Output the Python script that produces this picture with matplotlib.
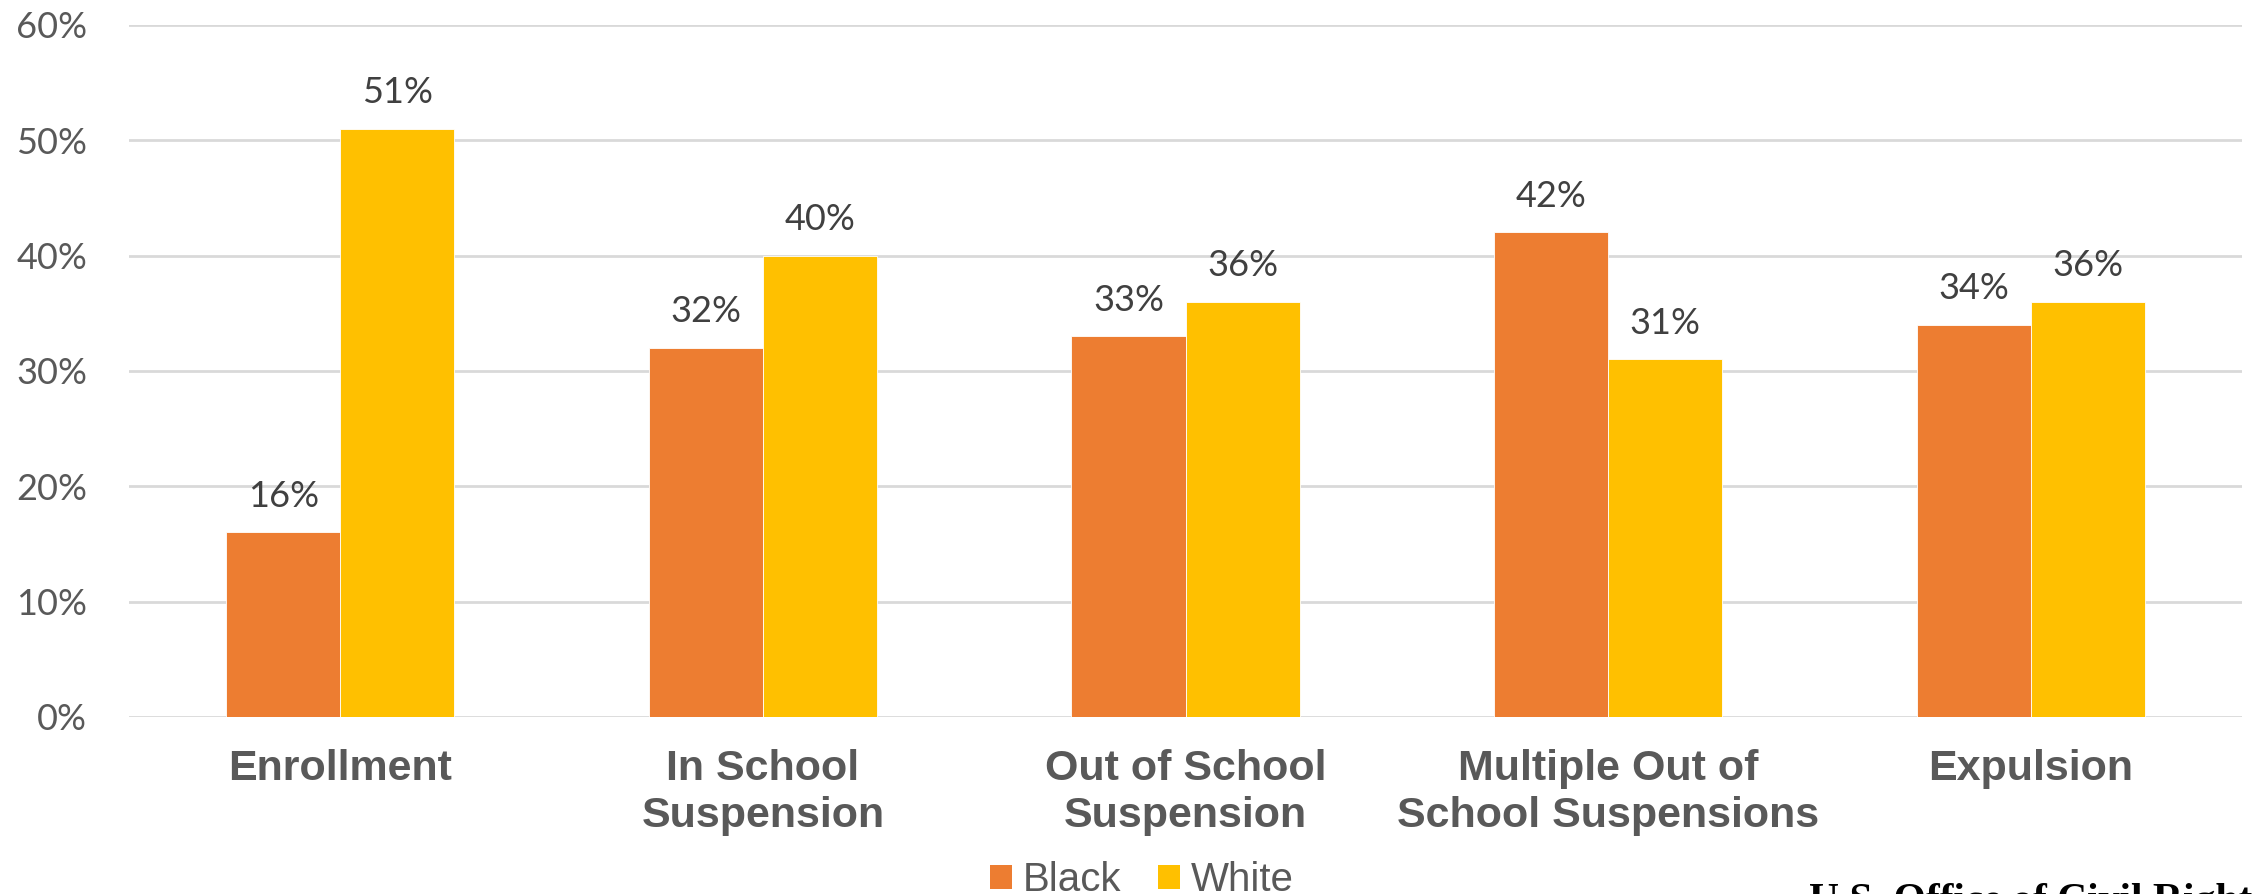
import matplotlib
matplotlib.use("Agg")
import matplotlib.pyplot as plt
from matplotlib.patches import Patch
from matplotlib.ticker import FuncFormatter
import numpy as np

# --- data ---
categories = ["Enrollment", "In School\nSuspension", "Out of School\nSuspension",
              "Multiple Out of\nSchool Suspensions", "Expulsion"]
black_pct = [16, 32, 33, 42, 34]
white_pct = [51, 40, 36, 31, 36]
series_names = ["Black", "White"]
y_ticks = [0, 10, 20, 30, 40, 50, 60]
source_note = "U.S. Office of Civil Rights"

ORANGE = "#ED7D31"
GOLD = "#FFC000"
GRID = "#D9D9D9"
TICK_GREY = "#595959"
LABEL_GREY = "#404040"

fig = plt.figure(figsize=(22.52, 8.94), dpi=100)
ax = fig.add_axes([0.0573, 0.198, 0.9383, 0.7742])

x = np.arange(len(categories))
w = 0.27
bars_b = ax.bar(x - w / 2, black_pct, w, color=ORANGE, edgecolor="white", linewidth=0.6, zorder=3)
bars_w = ax.bar(x + w / 2, white_pct, w, color=GOLD, edgecolor="white", linewidth=0.6, zorder=3)

# value labels above each bar
for bars, vals in ((bars_b, black_pct), (bars_w, white_pct)):
    for b, v in zip(bars, vals):
        ax.annotate(f"{v}%", (b.get_x() + b.get_width() / 2, v),
                    xytext=(0, 14), textcoords="offset points",
                    ha="center", va="bottom", fontsize=26, family="Lato",
                    color=LABEL_GREY)

ax.set_xlim(-0.5, len(categories) - 0.5)
ax.set_ylim(0, 60)
ax.set_yticks(y_ticks)
ax.yaxis.set_major_formatter(FuncFormatter(lambda v, p: f"{v:.0f}%"))
ax.grid(axis="y", color=GRID, linewidth=2, zorder=0)
for s in ax.spines.values():
    s.set_visible(False)
ax.tick_params(axis="y", length=0, pad=30, labelsize=26, labelcolor=TICK_GREY)
ax.tick_params(axis="x", length=0, pad=23)
for t in ax.yaxis.get_ticklabels():
    t.set_family("Lato")

ax.set_xticks(x)
ax.set_xticklabels(categories, fontsize=31, fontweight="bold", color=TICK_GREY,
                   family="Liberation Sans", linespacing=1.22)

handles = [Patch(facecolor=ORANGE, label=series_names[0]),
           Patch(facecolor=GOLD, label=series_names[1])]
leg = fig.legend(handles=handles, loc="center", bbox_to_anchor=(0.507, 0.0153),
                 ncol=2, frameon=False, handlelength=0.55, handleheight=0.55,
                 handletextpad=0.27, columnspacing=0.9, borderpad=0,
                 prop={"family": "Liberation Sans", "size": 29})
for t in leg.get_texts():
    t.set_color(TICK_GREY)

fig.text(1809 / 2252, 0.0123, source_note, ha="left", va="top",
         family="Liberation Serif", fontweight="bold", fontsize=30, color="black")

fig.savefig("out.png", dpi=100)
